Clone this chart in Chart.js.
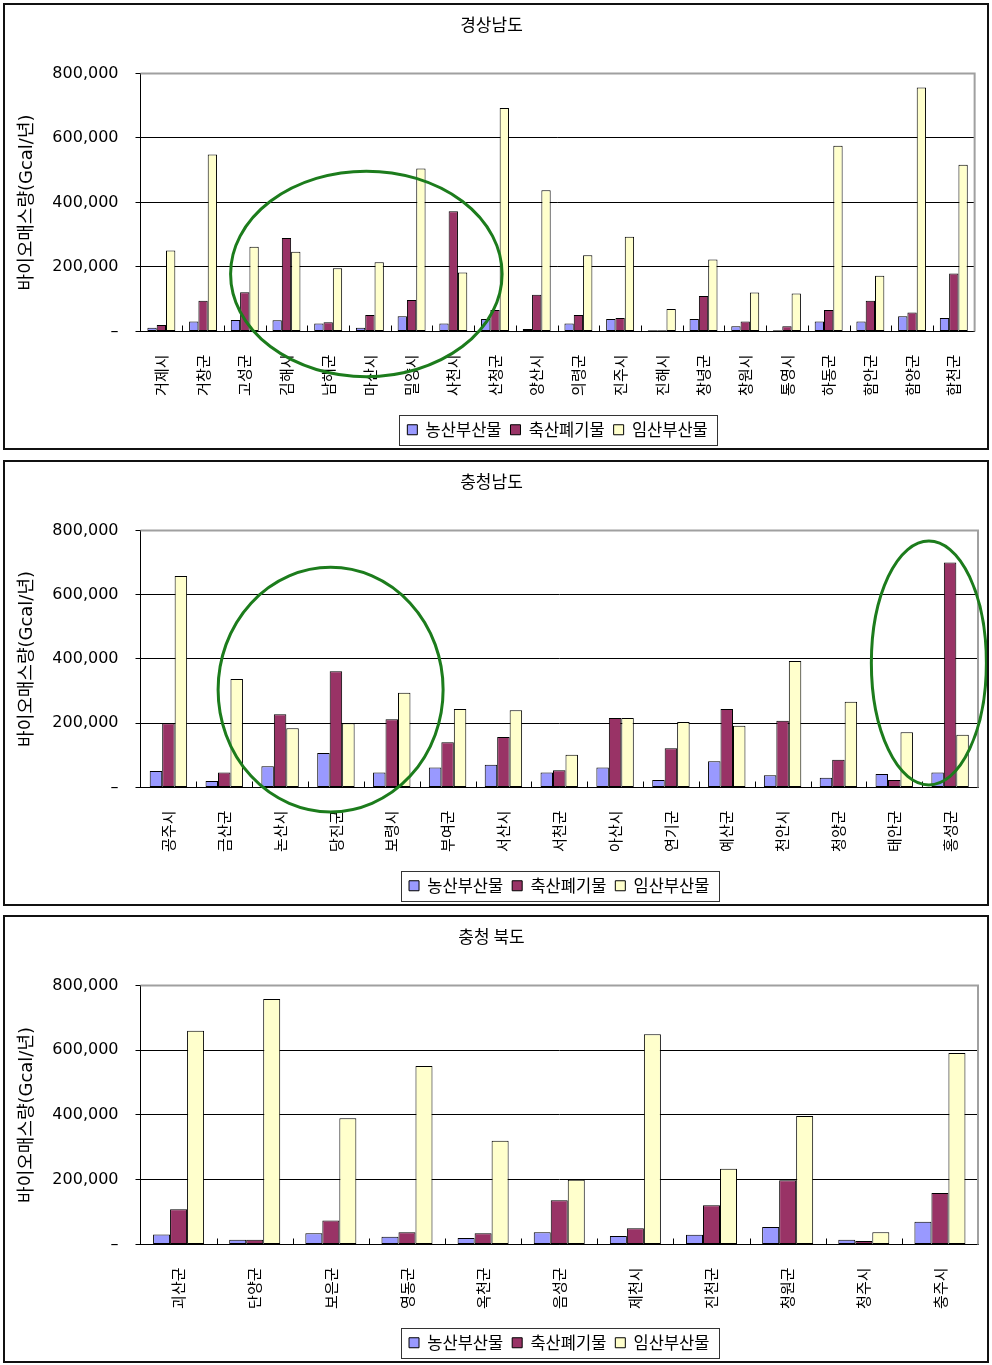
<!DOCTYPE html>
<html lang="ko">
<head>
<meta charset="utf-8">
<title>바이오매스량</title>
<script src="https://cdn.jsdelivr.net/npm/chart.js@4.4.1/dist/chart.umd.min.js"></script>
<style>
html, body { margin: 0; padding: 0; background: #fff; }
body { width: 992px; height: 1365px; position: relative; overflow: hidden; }
.box { position: absolute; left: 3px; width: 986px; border: 2px solid #111; box-sizing: border-box; background: #fff; }
.box canvas { display: block; }
</style>
</head>
<body>
<div class="box" style="top:3px;height:447px;"><canvas id="c1" width="982" height="443"></canvas></div>
<div class="box" style="top:460px;height:446px;"><canvas id="c2" width="982" height="442"></canvas></div>
<div class="box" style="top:915px;height:448px;"><canvas id="c3" width="982" height="444"></canvas></div>
<script>
// Series names (legend)
const seriesNames = ['농산부산물', '축산폐기물', '임산부산물'];
const seriesColors = ['#9999FF', '#993366', '#FFFFCC'];

// Y axis tick values (Gcal/년)
const yTickValues = [0, 200000, 400000, 600000, 800000];

// 경상남도
const gsnCategories = ['거제시', '거창군', '고성군', '김해시', '남해군', '마산시', '밀양시', '사천시', '산청군', '양산시',
                       '의령군', '진주시', '진해시', '창녕군', '창원시', '통영시', '하동군', '함안군', '함양군', '합천군'];
const gsnAgri      = [12000, 31000, 36000, 35000, 25000, 12000, 47000, 25000, 39000, 8000,
                      25000, 39000, 4000, 39000, 16000, 4000, 31000, 31000, 47000, 42000];
const gsnLivestock = [20000, 95000, 122000, 290000, 29000, 51000, 98000, 373000, 67000, 114000,
                      51000, 42000, 4000, 110000, 31000, 16000, 67000, 95000, 59000, 180000];
const gsnForest    = [251000, 549000, 263000, 247000, 196000, 215000, 505000, 183000, 693000, 438000,
                      236000, 294000, 70000, 223000, 121000, 118000, 576000, 173000, 756000, 517000];
// highlighted groups: [from category, to category, upper value, lower value]
const gsnCircles = [[1.66, 8.17, 497000, -140000]];

// 충청남도
const cnnCategories = ['공주시', '금산군', '논산시', '당진군', '보령시', '부여군', '서산시', '서천군', '아산시', '연기군',
                       '예산군', '천안시', '청양군', '태안군', '홍성군'];
const cnnAgri      = [51000, 20000, 66000, 107000, 47000, 62000, 71000, 47000, 62000, 23000,
                      82000, 38000, 30000, 42000, 47000];
const cnnLivestock = [200000, 47000, 228000, 362000, 212000, 141000, 157000, 54000, 216000, 122000,
                      244000, 208000, 86000, 23000, 700000];
const cnnForest    = [658000, 338000, 184000, 200000, 295000, 244000, 240000, 102000, 216000, 204000,
                      192000, 394000, 267000, 172000, 164000];
const cnnCircles = [[0.89, 4.92, 685000, -76000], [12.59, 14.65, 767000, 8000]];

// 충청북도
const cnbCategories = ['괴산군', '단양군', '보은군', '영동군', '옥천군', '음성군', '제천시', '진천군', '청원군', '청주시', '충주시'];
const cnbAgri      = [31000, 15000, 35000, 24000, 20000, 38000, 26000, 30000, 54000, 15000, 70000];
const cnbLivestock = [109000, 15000, 74000, 38000, 35000, 137000, 50000, 121000, 198000, 11000, 159000];
const cnbForest    = [660000, 758000, 390000, 551000, 320000, 200000, 649000, 234000, 397000, 38000, 591000];
const cnbCircles = [];

const FONT = "'DejaVu Sans', 'Noto Sans CJK KR', sans-serif";
const KFONT = "'Noto Sans CJK KR', 'DejaVu Sans', sans-serif";

// Frame details: gray top/right plot border, inner category ticks, legend box, circled groups
const framePlugin = {
  id: 'frame',
  afterDraw(chart, args, opts) {
    const ctx = chart.ctx;
    const a = chart.chartArea;
    const xs = chart.scales.x, ys = chart.scales.y;
    ctx.save();
    // plot border (top & right)
    ctx.strokeStyle = '#a0a0a0';
    ctx.lineWidth = 2;
    ctx.beginPath();
    ctx.moveTo(a.left, a.top);
    ctx.lineTo(a.right, a.top);
    ctx.lineTo(a.right, a.bottom);
    ctx.stroke();
    // small inside ticks between categories
    ctx.strokeStyle = '#000';
    ctx.lineWidth = 1;
    const n = chart.data.labels.length;
    ctx.beginPath();
    for (let i = 1; i < n; i++) {
      const x = Math.round((xs.getPixelForTick(i - 1) + xs.getPixelForTick(i)) / 2) + 0.5;
      ctx.moveTo(x, a.bottom);
      ctx.lineTo(x, a.bottom - 6);
    }
    ctx.stroke();
    // legend frame
    const boxes = chart.legend.legendHitBoxes;
    if (boxes && boxes.length) {
      const l = Math.min(...boxes.map(b => b.left));
      const r = Math.max(...boxes.map(b => b.left + b.width));
      const cy = boxes[0].top + boxes[0].height / 2;
      ctx.strokeStyle = '#333';
      ctx.lineWidth = 1;
      ctx.strokeRect(Math.round(l - 8) + 0.5, Math.round(cy - 15) + 0.5, Math.round(r - l + 18), 30);
    }
    // circled groups
    ctx.strokeStyle = '#1c7c1c';
    ctx.lineWidth = 3;
    (opts.circles || []).forEach(c => {
      const x1 = xs.getPixelForValue(c[0]), x2 = xs.getPixelForValue(c[1]);
      const y1 = ys.getPixelForValue(c[2]), y2 = ys.getPixelForValue(c[3]);
      ctx.beginPath();
      ctx.ellipse((x1 + x2) / 2, (y1 + y2) / 2, Math.abs(x2 - x1) / 2, Math.abs(y2 - y1) / 2, 0, 0, Math.PI * 2);
      ctx.stroke();
    });
    ctx.restore();
  }
};

function makeChart(id, title, categories, agri, livestock, forest, circles) {
  const values = [agri, livestock, forest];
  new Chart(document.getElementById(id), {
    type: 'bar',
    data: {
      labels: categories,
      datasets: values.map((v, i) => ({
        label: seriesNames[i],
        data: v,
        backgroundColor: seriesColors[i],
        borderColor: '#000',
        borderWidth: 1,
        borderSkipped: false,
        categoryPercentage: 0.67,
        barPercentage: 1.0
      }))
    },
    options: {
      responsive: false,
      animation: false,
      devicePixelRatio: 1,
      layout: { padding: { left: 0, right: 9, top: 0, bottom: 0 } },
      plugins: {
        title: {
          display: true,
          text: title,
          color: '#000',
          font: { family: KFONT, size: 17, weight: 'normal' },
          padding: { top: 9, bottom: 39 }
        },
        legend: {
          position: 'bottom',
          fullSize: false,
          labels: {
            color: '#000',
            font: { family: KFONT, size: 16.5 },
            boxWidth: 10,
            boxHeight: 10,
            padding: 9
          }
        },
        tooltip: { enabled: false },
        frame: { circles: circles }
      },
      scales: {
        x: {
          grid: { display: false },
          border: { display: true, color: '#000', width: 1 },
          ticks: {
            color: '#000',
            font: { family: KFONT, size: 15 },
            minRotation: 90,
            maxRotation: 90,
            autoSkip: false,
            padding: 15
          },
          afterFit(s) { s.height = 81; }
        },
        y: {
          min: 0,
          max: 800000,
          afterBuildTicks(s) { s.ticks = yTickValues.map(v => ({ value: v })); },
          grid: {
            color: '#000',
            lineWidth: 1,
            tickColor: '#000',
            tickLength: 5
          },
          border: { display: true, color: '#000', width: 1 },
          ticks: {
            color: '#000',
            font: { family: FONT, size: 16 },
            padding: 17,
            callback: v => v === 0 ? '–' : v.toLocaleString('en-US')
          },
          title: {
            display: true,
            text: '바이오매스량(Gcal/년)',
            color: '#000',
            font: { family: FONT, size: 18 },
            padding: { top: 12, bottom: 0 }
          },
          afterFit(s) { s.width = 135.5; }
        }
      }
    },
    plugins: [framePlugin]
  });
}

makeChart('c1', '경상남도', gsnCategories, gsnAgri, gsnLivestock, gsnForest, gsnCircles);
makeChart('c2', '충청남도', cnnCategories, cnnAgri, cnnLivestock, cnnForest, cnnCircles);
makeChart('c3', '충청 북도', cnbCategories, cnbAgri, cnbLivestock, cnbForest, cnbCircles);
</script>
</body>
</html>
